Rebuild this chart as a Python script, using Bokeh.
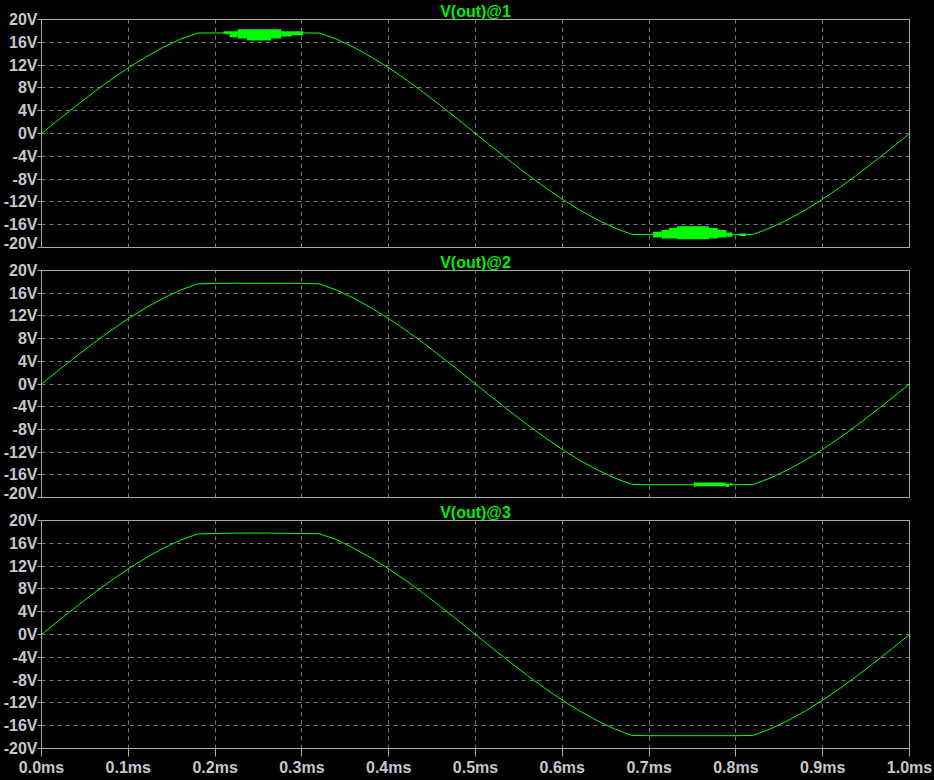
from bokeh.plotting import figure
from bokeh.layouts import column
from bokeh.models import Range1d, FixedTicker, PrintfTickFormatter, Title
from bokeh.embed import file_html
from bokeh.resources import INLINE

# ---- data ----
t_ms = [0.00, 0.02, 0.04, 0.06, 0.08, 0.10, 0.12, 0.14, 0.16, 0.18,
        0.20, 0.22, 0.24, 0.26, 0.28, 0.30, 0.32, 0.34, 0.36, 0.38,
        0.40, 0.42, 0.44, 0.46, 0.48, 0.50, 0.52, 0.54, 0.56, 0.58,
        0.60, 0.62, 0.64, 0.66, 0.68, 0.70, 0.72, 0.74, 0.76, 0.78,
        0.80, 0.82, 0.84, 0.86, 0.88, 0.90, 0.92, 0.94, 0.96, 0.98, 1.00]

v_out_1 = [0.0, 2.46, 4.87, 7.21, 9.44, 11.52, 13.42, 15.10, 16.55, 17.62,
           17.65, 17.65, 17.65, 17.65, 17.65, 17.65, 17.62, 16.55, 15.10, 13.42,
           11.52, 9.44, 7.21, 4.87, 2.46, 0.0, -2.46, -4.87, -7.21, -9.44,
           -11.52, -13.42, -15.10, -16.55, -17.70, -17.75, -17.75, -17.75, -17.75, -17.75,
           -17.75, -17.70, -16.55, -15.10, -13.42, -11.52, -9.44, -7.21, -4.87, -2.46, 0.0]

v_out_2 = [0.0, 2.46, 4.87, 7.21, 9.44, 11.52, 13.42, 15.10, 16.55, 17.65,
           17.72, 17.75, 17.75, 17.75, 17.75, 17.72, 17.65, 16.55, 15.10, 13.42,
           11.52, 9.44, 7.21, 4.87, 2.46, 0.0, -2.46, -4.87, -7.21, -9.44,
           -11.52, -13.42, -15.10, -16.55, -17.70, -17.75, -17.75, -17.75, -17.75, -17.75,
           -17.75, -17.70, -16.55, -15.10, -13.42, -11.52, -9.44, -7.21, -4.87, -2.46, 0.0]

v_out_3 = [0.0, 2.46, 4.87, 7.21, 9.44, 11.52, 13.42, 15.10, 16.55, 17.65,
           17.72, 17.78, 17.80, 17.80, 17.75, 17.72, 17.68, 16.65, 15.10, 13.42,
           11.52, 9.44, 7.21, 4.87, 2.46, 0.0, -2.46, -4.87, -7.21, -9.44,
           -11.52, -13.42, -15.10, -16.55, -17.70, -17.75, -17.75, -17.75, -17.75, -17.75,
           -17.75, -17.70, -16.55, -15.10, -13.42, -11.52, -9.44, -7.21, -4.87, -2.46, 0.0]

# dense oscillation (ringing) envelopes, drawn as filled blocks
ring1_top_start = [0.2098, 0.2167, 0.2259, 0.2367, 0.2643, 0.2762, 0.2885]
ring1_top_end = [0.2167, 0.2259, 0.2367, 0.2643, 0.2762, 0.2885, 0.3011]
ring1_top_hi = [17.95, 17.95, 18.30, 18.30, 18.30, 17.95, 17.95]
ring1_top_lo = [17.45, 16.90, 16.65, 16.30, 16.65, 17.00, 17.25]

ring1_bot_start = [0.7046, 0.7142, 0.7230, 0.7322, 0.7690, 0.7794, 0.7890, 0.8036]
ring1_bot_end = [0.7142, 0.7230, 0.7322, 0.7690, 0.7794, 0.7890, 0.7959, 0.8113]
ring1_bot_hi = [-17.25, -16.95, -16.60, -16.25, -16.60, -16.95, -17.35, -17.55]
ring1_bot_lo = [-18.25, -18.40, -18.40, -18.55, -18.40, -18.25, -18.10, -18.00]

ring2_bot_start = [0.7517, 0.7529, 0.7883, 0.7929]
ring2_bot_end = [0.7529, 0.7883, 0.7921, 0.7959]
ring2_bot_hi = [-17.30, -17.34, -17.57, -17.50]
ring2_bot_lo = [-18.20, -18.02, -18.16, -17.90]

y_ticks = [-20, -16, -12, -8, -4, 0, 4, 8, 12, 16, 20]
x_ticks = [0.0, 0.1, 0.2, 0.3, 0.4, 0.5, 0.6, 0.7, 0.8, 0.9, 1.0]
titles = ["V(out)@1", "V(out)@2", "V(out)@3"]

# ---- style ----
BG = "#000000"
TRACE = "#00ff00"
FRAME = "#a8a8a8"
GRID = "#7a7a7a"
LABEL = "#c4c8cc"
FONT = "Liberation Sans"


def make_panel(title, values, show_x, frame_h):
    p = figure(output_backend="svg", toolbar_location=None,
               frame_width=868, frame_height=frame_h,
               x_range=Range1d(0, 1.0), y_range=Range1d(-20, 20),
               min_border_left=41, min_border_right=24,
               min_border_top=19, min_border_bottom=30 if show_x else 4,
               background_fill_color=BG, border_fill_color=BG,
               outline_line_color=FRAME, outline_line_width=1)
    p.title = Title(text=title, align="center", text_font=FONT,
                    text_font_size="16px", text_font_style="bold",
                    text_color="#00ee00", standoff=0, offset=0)

    # y axis
    yax = p.yaxis[0]
    yax.ticker = FixedTicker(ticks=y_ticks)
    yax.formatter = PrintfTickFormatter(format="%dV")
    yax.axis_line_color = FRAME
    yax.major_tick_line_color = FRAME
    yax.major_tick_out = 4
    yax.major_tick_in = 0
    yax.minor_tick_line_color = None
    yax.major_label_standoff = 0
    yax.major_label_text_font = FONT
    yax.major_label_text_font_size = "16px"
    yax.major_label_text_font_style = "bold"
    yax.major_label_text_color = LABEL

    # x axis
    xax = p.xaxis[0]
    xax.ticker = FixedTicker(ticks=x_ticks)
    xax.formatter = PrintfTickFormatter(format="%.1fms")
    xax.axis_line_color = FRAME
    xax.major_tick_line_color = FRAME
    xax.major_tick_out = 8
    xax.major_tick_in = 0
    xax.minor_tick_line_color = None
    xax.major_label_standoff = 2
    xax.major_label_text_font = FONT
    xax.major_label_text_font_size = "16px"
    xax.major_label_text_font_style = "bold"
    xax.major_label_text_color = LABEL
    if not show_x:
        xax.visible = False

    p.xgrid.ticker = FixedTicker(ticks=x_ticks)
    p.ygrid.ticker = FixedTicker(ticks=y_ticks)
    for g in (p.xgrid[0], p.ygrid[0]):
        g.grid_line_color = GRID
        g.grid_line_dash = "4 4"
        g.grid_line_width = 1

    p.line(t_ms, values, line_color=TRACE, line_width=1)
    return p


p1 = make_panel(titles[0], v_out_1, False, 228)
p1.quad(left=ring1_top_start, right=ring1_top_end, bottom=ring1_top_lo, top=ring1_top_hi,
        fill_color=TRACE, line_color=None)
p1.quad(left=ring1_bot_start, right=ring1_bot_end, bottom=ring1_bot_lo, top=ring1_bot_hi,
        fill_color=TRACE, line_color=None)

p2 = make_panel(titles[1], v_out_2, False, 227)
p2.quad(left=ring2_bot_start, right=ring2_bot_end, bottom=ring2_bot_lo, top=ring2_bot_hi,
        fill_color=TRACE, line_color=None)

p3 = make_panel(titles[2], v_out_3, True, 228)

layout = column(p1, p2, p3, spacing=0, styles={"background-color": BG})

html = file_html(layout, INLINE, title="V(out)")
html = html.replace("</head>",
                    "<style>html,body{margin:0;padding:0;background:#000000;overflow:hidden;}</style></head>", 1)
open("out.html", "w").write(html)
